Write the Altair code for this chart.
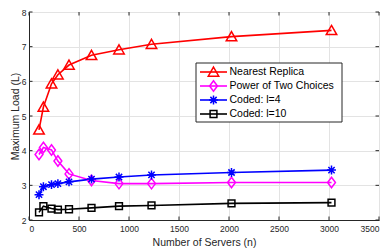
import altair as alt
import pandas as pd

servers = [100, 144, 225, 289, 400, 625, 900, 1225, 2025, 3025]
nearest_replica = [4.60, 5.26, 5.93, 6.19, 6.47, 6.75, 6.91, 7.07, 7.29, 7.47]
power_two = [3.89, 4.09, 4.02, 3.70, 3.33, 3.14, 3.05, 3.05, 3.08, 3.08]
coded_l4 = [2.73, 2.96, 3.02, 3.05, 3.10, 3.18, 3.24, 3.30, 3.37, 3.44]
coded_l10 = [2.22, 2.40, 2.33, 2.30, 2.31, 2.35, 2.40, 2.42, 2.48, 2.50]

series_names = ["Nearest Replica", "Power of Two Choices", "Coded: l=4", "Coded: l=10"]
series_colors = ["#FF0000", "#FF00FF", "#0000FF", "#000000"]
x_ticks = [0, 500, 1000, 1500, 2000, 2500, 3000, 3500]
y_ticks = [2, 3, 4, 5, 6, 7, 8]

rows = []
for name, vals in zip(series_names, [nearest_replica, power_two, coded_l4, coded_l10]):
    for n, v in zip(servers, vals):
        rows.append({"n": n, "load": v, "series": name})
df = pd.DataFrame(rows)
xt = pd.DataFrame({"n": x_ticks})
yt = pd.DataFrame({"load": y_ticks})
one = pd.DataFrame({"k": [0]})

W, H = 350, 208
TL = 3.5

# marker shapes (unit coordinates)
marker_paths = [
    "M0,-0.95L1.0,0.8L-1.0,0.8Z",
    "M0,-1L0.75,0L0,1L-0.75,0Z",
    "M-0.85,0L0.85,0M0,-0.85L0,0.85M-0.6,-0.6L0.6,0.6M-0.6,0.6L0.6,-0.6",
    "M-0.65,-0.65L0.65,-0.65L0.65,0.65L-0.65,0.65Z",
]
MSIZE = 110

font = "Liberation Sans"
axis_color = "#262626"

xs = alt.Scale(domain=[0, 3500], nice=False)
ys = alt.Scale(domain=[2, 8], nice=False)
x = alt.X("n:Q", title="Number of Servers (n)", scale=xs,
          axis=alt.Axis(values=x_ticks, format="d"))
y = alt.Y("load:Q", title="Maximum Load (L)", scale=ys,
          axis=alt.Axis(values=y_ticks, format="d"))
color_scale = alt.Scale(domain=series_names, range=series_colors)

lines = alt.Chart(df).mark_line(strokeWidth=1.6).encode(
    x=x, y=y,
    color=alt.Color("series:N", scale=color_scale, legend=None),
    detail="series:N",
)

point_layers = []
for name, col, path in zip(series_names, series_colors, marker_paths):
    point_layers.append(
        alt.Chart(df).transform_filter(alt.datum.series == name)
        .mark_point(filled=False, size=MSIZE, strokeWidth=1.5, opacity=1,
                    shape=path, color=col)
        .encode(x=x, y=y)
    )

# tick marks pointing inward (MATLAB style)
x_ticks_bottom = alt.Chart(xt).mark_rule(color=axis_color, strokeWidth=1).encode(
    x=x, y=alt.value(H), y2=alt.value(H - TL))
x_ticks_top = alt.Chart(xt).mark_rule(color=axis_color, strokeWidth=1).encode(
    x=x, y=alt.value(0), y2=alt.value(TL))
y_ticks_left = alt.Chart(yt).mark_rule(color=axis_color, strokeWidth=1).encode(
    y=y, x=alt.value(0), x2=alt.value(TL))
y_ticks_right = alt.Chart(yt).mark_rule(color=axis_color, strokeWidth=1).encode(
    y=y, x=alt.value(W), x2=alt.value(W - TL))

# legend box
LX0, LX1, LY0, LY1 = 167, 313, 51, 110
row_y = [60, 74, 88, 102]
sym_x0, sym_x1, lab_x = 171, 198, 200.5

legend_layers = [
    alt.Chart(one).mark_rect(fill="#FFFFFF", stroke=axis_color, strokeWidth=1).encode(
        x=alt.value(LX0), x2=alt.value(LX1), y=alt.value(LY0), y2=alt.value(LY1))
]
for name, col, path, ry in zip(series_names, series_colors, marker_paths, row_y):
    legend_layers.append(
        alt.Chart(one).mark_rule(color=col, strokeWidth=1.6).encode(
            x=alt.value(sym_x0), x2=alt.value(sym_x1), y=alt.value(ry)))
    legend_layers.append(
        alt.Chart(one).mark_point(filled=False, size=MSIZE, strokeWidth=1.5, opacity=1,
                                  shape=path, color=col).encode(
            x=alt.value((sym_x0 + sym_x1) / 2), y=alt.value(ry)))
    legend_layers.append(
        alt.Chart(one).mark_text(align="left", baseline="middle", font=font,
                                 fontSize=10.5, color="#000000").encode(
            x=alt.value(lab_x), y=alt.value(ry), text=alt.value(name)))

chart = alt.layer(
    lines, *point_layers,
    x_ticks_bottom, x_ticks_top, y_ticks_left, y_ticks_right,
    *legend_layers,
).properties(
    width=W, height=H,
    padding={"left": 21, "top": 4, "right": 3, "bottom": 32},
    autosize=alt.AutoSizeParams(type="none"),
).configure_view(
    stroke=axis_color, strokeWidth=1,
).configure_axis(
    grid=True, gridColor="#E3E3E3", gridWidth=1,
    domainColor=axis_color, ticks=False,
    labelFont=font, labelFontSize=8.5, labelColor=axis_color,
    titleFont=font, titleFontSize=10.5, titleFontWeight="normal", titleColor=axis_color,
).configure_axisX(titlePadding=5, labelPadding=4).configure_axisY(titlePadding=1, labelPadding=3)

chart.save("out.html", embed_options={"renderer": "svg", "actions": False})
